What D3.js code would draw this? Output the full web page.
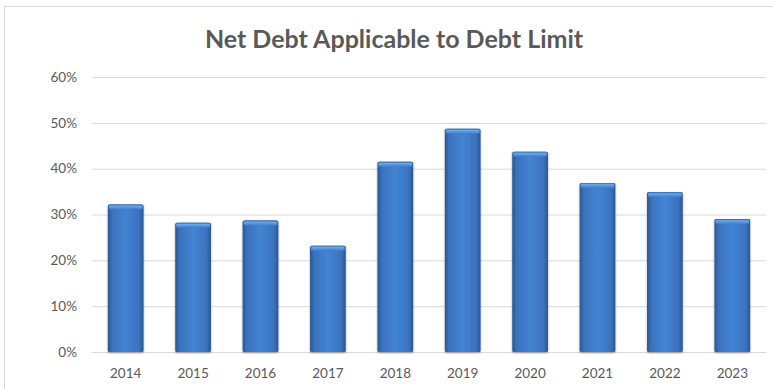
<!DOCTYPE html>
<html>
<head>
<meta charset="utf-8">
<script src="https://cdn.jsdelivr.net/npm/d3@7"></script>
<style>
  html, body { margin: 0; padding: 0; background: #fff; }
  svg { display: block; }
</style>
</head>
<body>
<svg id="chart" width="773" height="389"></svg>
<script>
// Net debt applicable to the debt limit, by fiscal year (percent)
const years = ["2014", "2015", "2016", "2017", "2018", "2019", "2020", "2021", "2022", "2023"];
const ratios = [32.2, 28.2, 28.7, 23.2, 41.5, 48.7, 43.7, 36.9, 34.9, 29.0];
const yTicks = [0, 10, 20, 30, 40, 50, 60];
const title = "Net Debt Applicable to Debt Limit";

const W = 773, H = 389;
const margin = { left: 92, right: 7, top: 77, bottom: 37 };
const svg = d3.select("#chart");
const font = "Lato, 'Open Sans', sans-serif";
const labelSize = 13.5;

// chart frame
svg.append("rect")
  .attr("x", 4.5).attr("y", 6.5)
  .attr("width", W + 20).attr("height", H + 20)
  .attr("fill", "#fff").attr("stroke", "#d9d9d9").attr("stroke-width", 1);

const x = d3.scaleBand()
  .domain(years)
  .range([margin.left, W - margin.right])
  .paddingInner(0.47).paddingOuter(0.235);

const y = d3.scaleLinear()
  .domain([0, 60])
  .range([H - margin.bottom, margin.top]);

// gradients giving the bars a bevelled look
const defs = svg.append("defs");
const body = defs.append("linearGradient").attr("id", "barBody")
  .attr("x1", "0").attr("x2", "1").attr("y1", "0").attr("y2", "0");
[[0, "#2a5690"], [0.12, "#3a72bd"], [0.5, "#4384d3"], [0.88, "#3a72bd"], [1, "#2a5690"]]
  .forEach(([o, c]) => body.append("stop").attr("offset", o).attr("stop-color", c));
const cap = defs.append("linearGradient").attr("id", "barCap")
  .attr("x1", "0").attr("x2", "0").attr("y1", "0").attr("y2", "1");
[[0, "#2f66aa"], [0.35, "#6aa6ea"], [1, "#3e7cc8"]]
  .forEach(([o, c]) => cap.append("stop").attr("offset", o).attr("stop-color", c));
const shadow = defs.append("filter").attr("id", "barShadow")
  .attr("x", "-20%").attr("y", "-5%").attr("width", "140%").attr("height", "115%");
shadow.append("feDropShadow").attr("dx", 0).attr("dy", 1).attr("stdDeviation", 1.2)
  .attr("flood-color", "#000").attr("flood-opacity", 0.35);

// horizontal gridlines + y axis labels
const yAxis = d3.axisLeft(y)
  .tickValues(yTicks)
  .tickSize(-(W - margin.right - margin.left))
  .tickPadding(15)
  .tickFormat(d => d + "%");
const gy = svg.append("g")
  .attr("transform", `translate(${margin.left},0)`)
  .call(yAxis);
gy.select(".domain").remove();
gy.selectAll(".tick line").attr("stroke", "#d9d9d9").attr("stroke-width", 1);
gy.selectAll(".tick text")
  .attr("fill", "#595959").attr("font-family", font).attr("font-size", labelSize);

// bars
const bars = svg.append("g").selectAll("g.bar")
  .data(years.map((yr, i) => ({ yr, v: ratios[i] })))
  .join("g").attr("class", "bar");
bars.append("rect")
  .attr("x", d => x(d.yr))
  .attr("y", d => y(d.v))
  .attr("width", x.bandwidth())
  .attr("height", d => y(0) - y(d.v))
  .attr("rx", 1.5)
  .attr("fill", "url(#barBody)")
  .attr("filter", "url(#barShadow)");
bars.append("rect")
  .attr("x", d => x(d.yr) + 1)
  .attr("y", d => y(d.v))
  .attr("width", x.bandwidth() - 2)
  .attr("height", 5)
  .attr("rx", 1.5)
  .attr("fill", "url(#barCap)");

// x axis labels
const xAxis = d3.axisBottom(x).tickSize(0).tickPadding(16);
const gx = svg.append("g")
  .attr("transform", `translate(0,${y(0)})`)
  .call(xAxis);
gx.select(".domain").remove();
gx.selectAll(".tick text")
  .attr("fill", "#595959").attr("font-family", font).attr("font-size", labelSize);

// title
svg.append("text")
  .attr("x", 394).attr("y", 48)
  .attr("text-anchor", "middle")
  .attr("fill", "#595959")
  .attr("font-family", font)
  .attr("font-weight", "bold")
  .attr("font-size", 25)
  .text(title);
</script>
</body>
</html>
